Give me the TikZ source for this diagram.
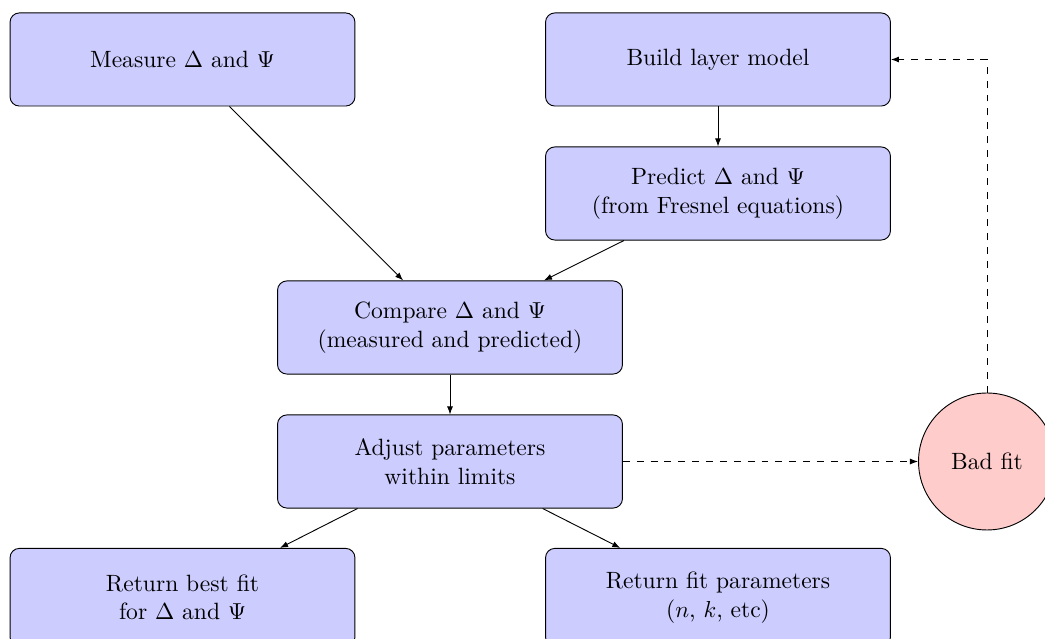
\documentclass[tikz,border=0pt]{standalone}
\usetikzlibrary{arrows.meta}
\begin{document}
\begin{tikzpicture}[x=0.4329pt,y=-0.4329pt,
  every node/.style={font=\fontsize{10.2}{12.4}\selectfont},
  stepbox/.style={draw, fill=blue!20, rounded corners=4pt, align=center,
    minimum width=149.3pt, minimum height=40.3pt, inner sep=2pt},
  badbox/.style={draw, fill=red!20, circle, minimum size=59.3pt, inner sep=1pt},
  flow/.style={-{Latex[length=3.5pt,width=2.6pt]}},
  back/.style={flow, dashed}]
\useasboundingbox (0,0) rectangle (1045,639);
\node[stepbox] (measure) at (182.5,59.5) {Measure $\Delta$ and $\Psi$};
\node[stepbox] (build) at (718,59.5) {Build layer model};
\node[stepbox] (predict) at (718,193.5) {Predict $\Delta$ and $\Psi$\\(from Fresnel equations)};
\node[stepbox] (compare) at (450,327.5) {Compare $\Delta$ and $\Psi$\\(measured and predicted)};
\node[stepbox] (adjust) at (450,461.5) {Adjust parameters\\within limits};
\node[stepbox, minimum height=42.5pt] (best) at (182.5,597.5) {Return best fit\\for $\Delta$ and $\Psi$};
\node[stepbox, minimum height=42.5pt] (params) at (718,597.5) {Return fit parameters\\($n$, $k$, etc)};
\node[badbox] (bad) at (987,461.5) {Bad fit};
\draw[flow] (measure) -- (compare);
\draw[flow] (build) -- (predict);
\draw[flow] (predict) -- (compare);
\draw[flow] (compare) -- (adjust);
\draw[flow] (adjust) -- (best);
\draw[flow] (adjust) -- (params);
\draw[back] (adjust) -- (bad);
\draw[back] (bad.north) |- (build.east);
\end{tikzpicture}
\end{document}
